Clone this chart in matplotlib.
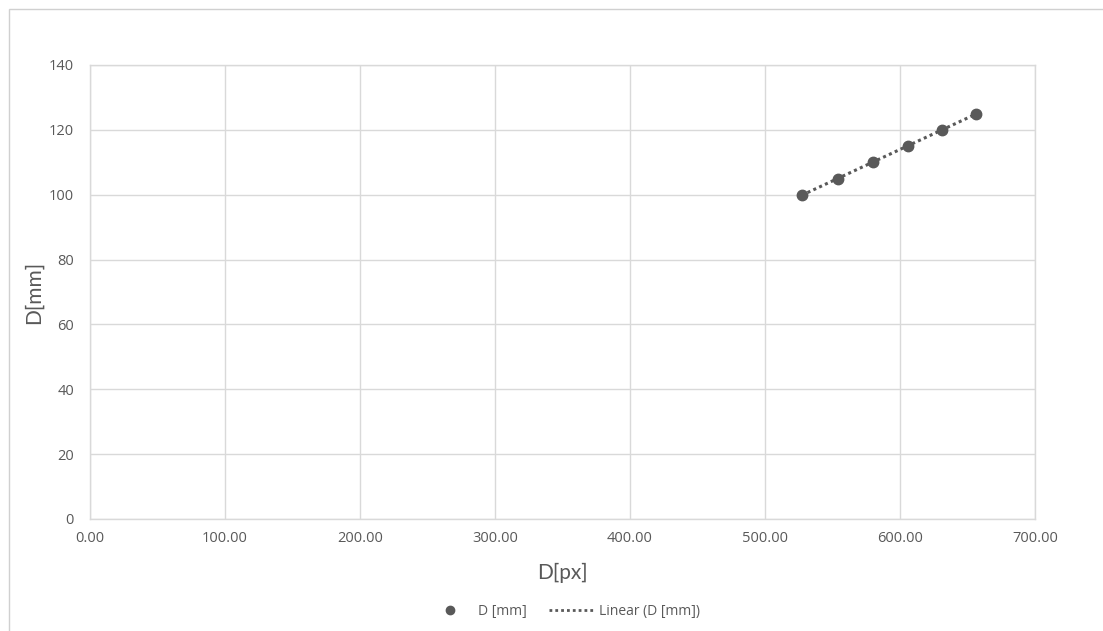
import matplotlib
matplotlib.use("Agg")
import matplotlib.pyplot as plt
import numpy as np
from matplotlib.patches import Rectangle
from matplotlib.lines import Line2D

# Calibration measurements: diameter in pixels vs. diameter in millimetres
d_px = [527.2, 554.3, 580.0, 606.1, 631.3, 656.1]
d_mm = [100, 105, 110, 115, 120, 125]

x_ticks = [0, 100, 200, 300, 400, 500, 600, 700]
y_ticks = [0, 20, 40, 60, 80, 100, 120, 140]

series_label = "D [mm]"
trend_label = "Linear (D [mm])"
x_title = "D[px]"
y_title = "D[mm]"

TEXT = "#595959"
GRID = "#d9d9d9"
MARK = "#595959"

fig = plt.figure(figsize=(11.03, 6.31), dpi=100)
fig.patch.set_facecolor("white")

# outer chart-area frame
fig.add_artist(Rectangle((8.5 / 1103, -0.05), 1.2, 1 - 9.5 / 631 + 0.05,
                         transform=fig.transFigure, fill=False,
                         edgecolor="#d0d0d0", linewidth=1.0))

ax = fig.add_axes([90 / 1103, 1 - 519 / 631, 945 / 1103, 454 / 631])
ax.set_xlim(0, 700)
ax.set_ylim(0, 140)
ax.set_xticks(x_ticks)
ax.set_yticks(y_ticks)
ax.set_xticklabels([f"{v:.2f}" for v in x_ticks], fontfamily="Open Sans",
                   fontsize=10.5, color=TEXT)
ax.set_yticklabels([str(v) for v in y_ticks], fontfamily="Open Sans",
                   fontsize=10.5, color=TEXT)
ax.tick_params(axis="y", length=0, pad=11.5)
ax.tick_params(axis="x", length=0, pad=8.5)
ax.grid(True, color=GRID, linewidth=1.0)
ax.set_axisbelow(True)
for s in ax.spines.values():
    s.set_color(GRID)
    s.set_linewidth(1.0)

# linear trendline fitted through the measurements
slope, intercept = np.polyfit(d_px, d_mm, 1)
xt = np.array([min(d_px), max(d_px)])
ax.plot(xt, slope * xt + intercept, linestyle=(0, (1, 1.1)), color=MARK,
        linewidth=2.2, zorder=3)
ax.plot(d_px, d_mm, linestyle="none", marker="o", markersize=7.5,
        color=MARK, zorder=4)

ax.set_xlabel(x_title, fontfamily="Lato", fontsize=15, color=TEXT, labelpad=12)
ax.set_ylabel(y_title, fontfamily="Lato", fontsize=15, color=TEXT, labelpad=4)

handles = [
    Line2D([], [], linestyle="none", marker="o", markersize=6, color=MARK),
    Line2D([], [], linestyle=(0, (1, 1.1)), linewidth=2.0, color=MARK),
]
fig.legend(handles, [series_label, trend_label], loc="center",
           bbox_to_anchor=(564 / 1103, 1 - 611 / 631), ncol=2, frameon=False,
           prop={"family": "Open Sans", "size": 10}, labelcolor=TEXT,
           handlelength=3.2, columnspacing=1.6, handletextpad=0.4)

fig.savefig("out.png", dpi=100, facecolor="white")
